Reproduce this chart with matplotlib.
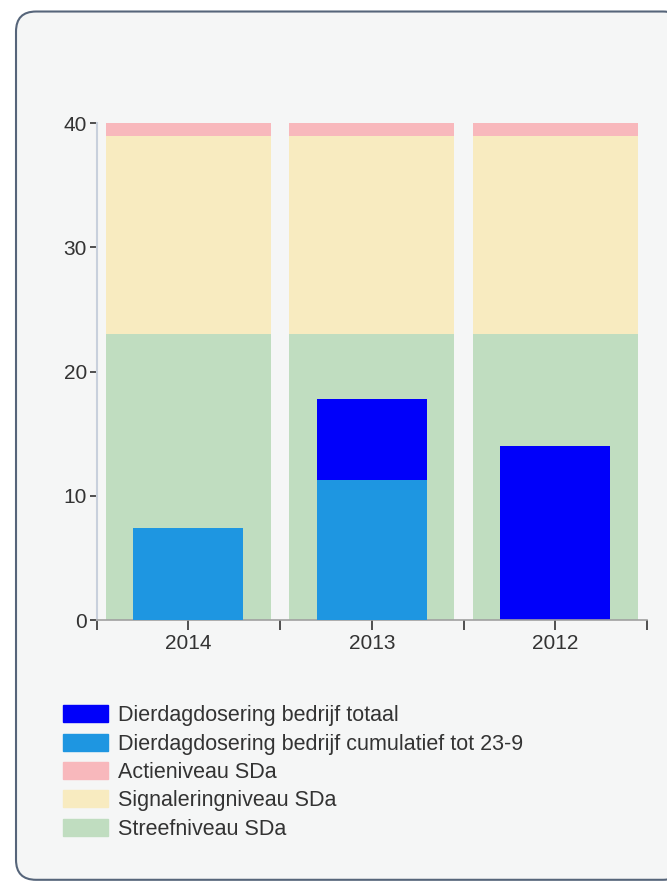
import numpy as np
import matplotlib
matplotlib.use('Agg')
import matplotlib.pyplot as plt
from matplotlib.patches import Patch, FancyBboxPatch

# data
years = ['2014', '2013', '2012']
totaal = [0.0, 17.8, 14.0]          # Dierdagdosering bedrijf totaal
cumulatief = [7.4, 11.3, 0.0]       # Dierdagdosering bedrijf cumulatief tot 23-9
streef = [23, 23, 23]               # Streefniveau SDa (upper limit)
signalering = [39, 39, 39]          # Signaleringniveau SDa (upper limit)
actie = [40, 40, 40]                # Actieniveau SDa (upper limit)

c_totaal = '#0000fa'
c_cum = '#1e96e1'
c_actie = '#f8b8bc'
c_signal = '#f8ebc0'
c_streef = '#c0ddc0'
bg = '#f5f6f6'
txt = '#333333'

plt.rcParams['font.family'] = ['Liberation Sans', 'DejaVu Sans']

fig = plt.figure(figsize=(6.67, 8.86), dpi=100)
fig.patch.set_facecolor('white')

# rounded panel behind everything
panel = FancyBboxPatch((0.024, 0.007), 1.0, 0.980, boxstyle='round,pad=0,rounding_size=0.03',
                       transform=fig.transFigure, facecolor=bg, edgecolor='#56657a',
                       linewidth=1.5, mutation_aspect=667 / 886, zorder=-10)
fig.patches.append(panel)

ax = fig.add_axes([0.145, 0.300, 0.825, 0.561])
ax.set_facecolor(bg)
x = np.arange(len(years))

s = np.array(streef)
g = np.array(signalering)
a = np.array(actie)
ax.bar(x, s, width=0.9, color=c_streef, zorder=1)
ax.bar(x, g - s, bottom=s, width=0.9, color=c_signal, zorder=1)
ax.bar(x, a - g, bottom=g, width=0.9, color=c_actie, zorder=1)

ax.bar(x, totaal, width=0.6, color=c_totaal, zorder=2)
ax.bar(x, cumulatief, width=0.6, color=c_cum, zorder=3)

ax.set_xlim(-0.5, 2.5)
ax.set_ylim(0, 40)
ax.set_yticks([0, 10, 20, 30, 40])
ax.set_xticks(x)
ax.set_xticklabels(years)
ax.set_xticks([-0.5, 0.5, 1.5, 2.5], minor=True)
ax.tick_params(axis='y', length=5, width=1.2, color='#333333', labelsize=15, labelcolor=txt, pad=2)
ax.tick_params(axis='x', which='both', length=7, width=1.2, color='#333333', labelsize=15,
               labelcolor=txt, pad=3)

for side in ['top', 'right']:
    ax.spines[side].set_visible(False)
ax.spines['left'].set_color('#c8d0dc')
ax.spines['left'].set_linewidth(1.5)
ax.spines['bottom'].set_color('#a0a0a0')
ax.spines['bottom'].set_linewidth(1.2)

handles = [Patch(color=c_totaal), Patch(color=c_cum), Patch(color=c_actie),
           Patch(color=c_signal), Patch(color=c_streef)]
labels = ['Dierdagdosering bedrijf totaal', 'Dierdagdosering bedrijf cumulatief tot 23-9',
          'Actieniveau SDa', 'Signaleringniveau SDa', 'Streefniveau SDa']
leg = fig.legend(handles, labels, loc='upper left', bbox_to_anchor=(0.094, 0.204),
                 frameon=False, fontsize=15.5, handlelength=2.1, handleheight=0.85,
                 labelspacing=0.34, handletextpad=0.45, borderaxespad=0, borderpad=0)
for t in leg.get_texts():
    t.set_color(txt)

fig.savefig('out.png', dpi=100, facecolor='white')
